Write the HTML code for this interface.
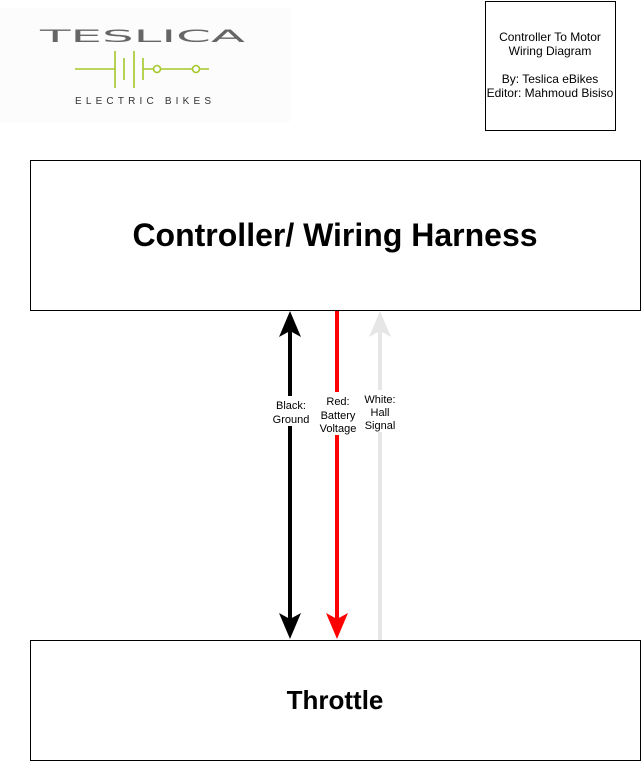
<!DOCTYPE html>
<html><head><meta charset="utf-8"><style>
html,body{margin:0;padding:0;background:#fff;width:641px;height:761px;overflow:hidden}
svg{display:block}
text{font-family:"Liberation Sans",Arial,sans-serif}
</style></head><body>
<svg width="641" height="761" viewBox="0 0 641 761" xmlns="http://www.w3.org/2000/svg">
<!-- logo -->
<rect x="0" y="8" width="290" height="114" fill="#fbfcfb"/>
<text x="40" y="42" font-size="17" textLength="205" lengthAdjust="spacingAndGlyphs" fill="#666" style="font-family:'DejaVu Sans',sans-serif">TESLICA</text>
<g stroke="#a6c82a" stroke-width="1.6" fill="#fbfcfb">
<line x1="75" y1="69" x2="115" y2="69"/>
<line x1="115" y1="51" x2="115" y2="88"/>
<line x1="124" y1="58" x2="124" y2="80"/>
<line x1="134" y1="51" x2="134" y2="88"/>
<line x1="143" y1="58" x2="143" y2="80"/>
<line x1="143" y1="69" x2="209" y2="69"/>
<circle cx="157" cy="69" r="3.5"/>
<circle cx="196" cy="69" r="3.5"/>
</g>
<text x="75" y="104" font-size="10" textLength="136" lengthAdjust="spacing" fill="#333">ELECTRIC BIKES</text>
<!-- info box -->
<rect x="485.5" y="1.5" width="130" height="129" fill="#fff" stroke="#000"/>
<g font-size="12" text-anchor="middle" fill="#000">
<text x="550" y="41">Controller To Motor</text>
<text x="550" y="55">Wiring Diagram</text>
<text x="550" y="83">By: Teslica eBikes</text>
<text x="550" y="97">Editor: Mahmoud Bisiso</text>
</g>
<!-- boxes -->
<rect x="30.5" y="160.5" width="610" height="150" fill="#fff" stroke="#000"/>
<text x="335" y="246" text-anchor="middle" font-size="32" font-weight="bold">Controller/ Wiring Harness</text>
<rect x="30.5" y="640.5" width="610" height="120" fill="#fff" stroke="#000"/>
<text x="335" y="709" text-anchor="middle" font-size="26" font-weight="bold">Throttle</text>
<!-- arrows -->
<line x1="290" y1="330" x2="290" y2="620" stroke="#000" stroke-width="4"/>
<polygon points="290,311 279,337 290,331 301,337" fill="#000"/>
<polygon points="290,639 279,613 290,619 301,613" fill="#000"/>
<line x1="337" y1="311" x2="337" y2="620" stroke="#f00" stroke-width="4"/>
<polygon points="337,639 326,613 337,619 348,613" fill="#f00"/>
<line x1="380" y1="330" x2="380" y2="640" stroke="#e6e6e6" stroke-width="4"/>
<polygon points="380,311 369,337 380,331 391,337" fill="#e6e6e6"/>
<!-- labels -->
<rect x="268" y="396" width="46" height="30" fill="#fff"/>
<rect x="316" y="392" width="44" height="43" fill="#fff"/>
<rect x="361" y="390" width="38" height="42" fill="#fff"/>
<g font-size="11" text-anchor="middle" fill="#000">
<text x="291" y="409">Black:</text>
<text x="291" y="423">Ground</text>
<text x="338" y="405">Red:</text>
<text x="338" y="419">Battery</text>
<text x="338" y="432">Voltage</text>
<text x="380" y="403">White:</text>
<text x="380" y="416">Hall</text>
<text x="380" y="429">Signal</text>
</g>
</svg>
</body></html>
